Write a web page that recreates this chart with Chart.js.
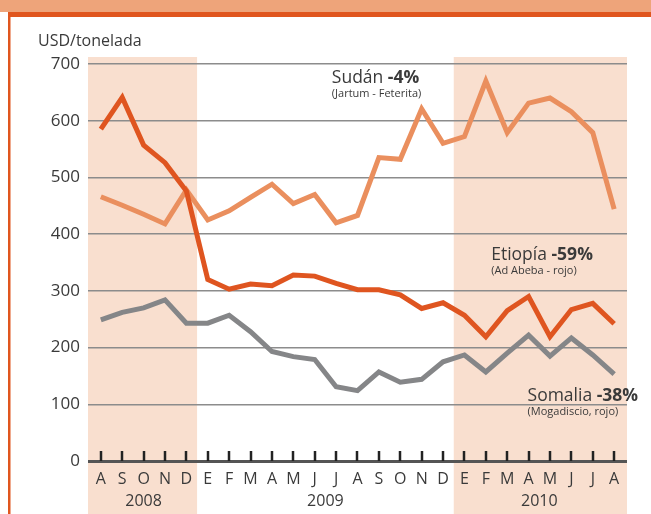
<!DOCTYPE html>
<html>
<head>
<meta charset="utf-8">
<script src="https://cdn.jsdelivr.net/npm/chart.js@4"></script>
<style>
  html, body { margin: 0; padding: 0; background: #fff; }
  #caja { width: 651px; height: 514px; position: relative; }
</style>
</head>
<body>
<div id="caja"><canvas id="grafico" width="651" height="514"></canvas></div>
<script>
// Meses de agosto 2008 a agosto 2010
const meses = ['A','S','O','N','D','E','F','M','A','M','J','J','A','S','O','N','D','E','F','M','A','M','J','J','A'];
const anios = ['2008', '2009', '2010'];
const centroAnios = [2, 10.5, 20.5];

// USD/tonelada
const etiopia = [585, 641, 557, 526, 476, 320, 303, 312, 309, 328, 326, 313, 302, 302, 293, 269, 279, 257, 219, 265, 290, 219, 267, 278, 242];
const sudan = [466, 451, 435, 418, 478, 425, 441, 465, 488, 454, 470, 420, 433, 535, 532, 621, 560, 572, 670, 579, 631, 640, 616, 579, 444];
const somalia = [249, 262, 270, 284, 243, 243, 257, 228, 193, 184, 179, 131, 124, 157, 139, 144, 175, 187, 157, 190, 222, 185, 217, 187, 153];

const ticksY = [0, 100, 200, 300, 400, 500, 600, 700];

// periodos sombreados (en indices de mes)
const sombraInicio = [-0.6, 16.5];
const sombraFin = [4.5, 24.6];

// etiquetas de las series
const etiquetas = [
    { nombre: 'Sudán ', cambio: '-4%', detalle: '(Jartum - Feterita)', mes: 10.8, valor: 666 },
    { nombre: 'Etiopía ', cambio: '-59%', detalle: '(Ad Abeba - rojo)', mes: 18.25, valor: 354 },
    { nombre: 'Somalia ', cambio: '-38%', detalle: '(Mogadiscio, rojo)', mes: 19.95, valor: 106 }
];

const FUENTE = "'Open Sans', 'Noto Sans', sans-serif";
const GRIS_TEXTO = '#3a3a3a';

const aPuntos = arr => arr.map((v, i) => ({ x: i, y: v }));

const fondo = {
    id: 'fondo',
    beforeDraw(chart) {
        const ctx = chart.ctx;
        const x = chart.scales.x;
        const area = chart.chartArea;
        ctx.save();
        // cabecera
        ctx.fillStyle = '#eea47a';
        ctx.fillRect(0, 0, chart.width, 12);
        ctx.fillStyle = '#e0561e';
        ctx.fillRect(8, 12, chart.width - 8, 5);
        ctx.fillRect(8, 12, 2.5, chart.height - 12);
        // sombras
        ctx.fillStyle = '#f9dfcf';
        for (let i = 0; i < sombraInicio.length; i++) {
            const x1 = x.getPixelForValue(sombraInicio[i]);
            const x2 = x.getPixelForValue(sombraFin[i]);
            ctx.fillRect(x1, area.top - 7, x2 - x1, chart.height - area.top + 7);
        }
        ctx.restore();
    },
    afterDraw(chart) {
        const ctx = chart.ctx;
        const x = chart.scales.x;
        const y = chart.scales.y;
        const base = y.getPixelForValue(0);
        ctx.save();
        // marcas de los meses
        ctx.strokeStyle = '#222';
        ctx.lineWidth = 2.5;
        meses.forEach((m, i) => {
            const px = Math.round(x.getPixelForValue(i));
            ctx.beginPath();
            ctx.moveTo(px, base - 10);
            ctx.lineTo(px, base);
            ctx.stroke();
        });
        // años
        ctx.fillStyle = GRIS_TEXTO;
        ctx.font = '16px ' + FUENTE;
        ctx.textAlign = 'center';
        ctx.textBaseline = 'alphabetic';
        anios.forEach((a, i) => {
            ctx.fillText(a, x.getPixelForValue(centroAnios[i]), 506);
        });
        // unidad
        ctx.textAlign = 'left';
        ctx.fillText('USD/tonelada', 38, 46);
        // etiquetas de series
        etiquetas.forEach(e => {
            const px = x.getPixelForValue(e.mes);
            const py = y.getPixelForValue(e.valor);
            ctx.font = '17.5px ' + FUENTE;
            ctx.fillText(e.nombre, px, py);
            const w = ctx.measureText(e.nombre).width;
            ctx.font = 'bold 17.5px ' + FUENTE;
            ctx.fillText(e.cambio, px + w, py);
            ctx.font = '11px ' + FUENTE;
            ctx.fillText(e.detalle, px, py + 14);
        });
        ctx.restore();
    }
};

new Chart(document.getElementById('grafico'), {
    type: 'line',
    data: {
        datasets: [
            { label: 'Etiopía', data: aPuntos(etiopia), borderColor: '#df5520' },
            { label: 'Sudán', data: aPuntos(sudan), borderColor: '#ea8f5e' },
            { label: 'Somalia', data: aPuntos(somalia), borderColor: '#858688' }
        ]
    },
    options: {
        responsive: false,
        animation: false,
        events: [],
        layout: { padding: { top: 64, right: 24, left: 0, bottom: 0 } },
        elements: {
            line: { borderWidth: 5, tension: 0, fill: false },
            point: { radius: 0 }
        },
        plugins: { legend: { display: false }, tooltip: { enabled: false } },
        scales: {
            x: {
                type: 'linear',
                min: -0.6,
                max: 24.6,
                afterBuildTicks: s => { s.ticks = meses.map((m, i) => ({ value: i })); },
                afterFit: s => { s.height = 53; },
                grid: { display: false, drawTicks: false },
                border: { display: false },
                ticks: {
                    autoSkip: false,
                    maxRotation: 0,
                    padding: 9,
                    color: GRIS_TEXTO,
                    font: { family: FUENTE, size: 16 },
                    callback: v => meses[v]
                }
            },
            y: {
                min: 0,
                max: 700,
                afterBuildTicks: s => { s.ticks = ticksY.map(v => ({ value: v })); },
                afterFit: s => { s.width = 88; },
                grid: {
                    drawTicks: false,
                    color: c => c.tick && c.tick.value === 0 ? '#555' : '#8c8c8c',
                    lineWidth: c => c.tick && c.tick.value === 0 ? 3 : 1.5
                },
                border: { display: false },
                ticks: {
                    padding: 8,
                    color: GRIS_TEXTO,
                    font: { family: FUENTE, size: 17 }
                }
            }
        }
    },
    plugins: [fondo]
});
</script>
</body>
</html>
